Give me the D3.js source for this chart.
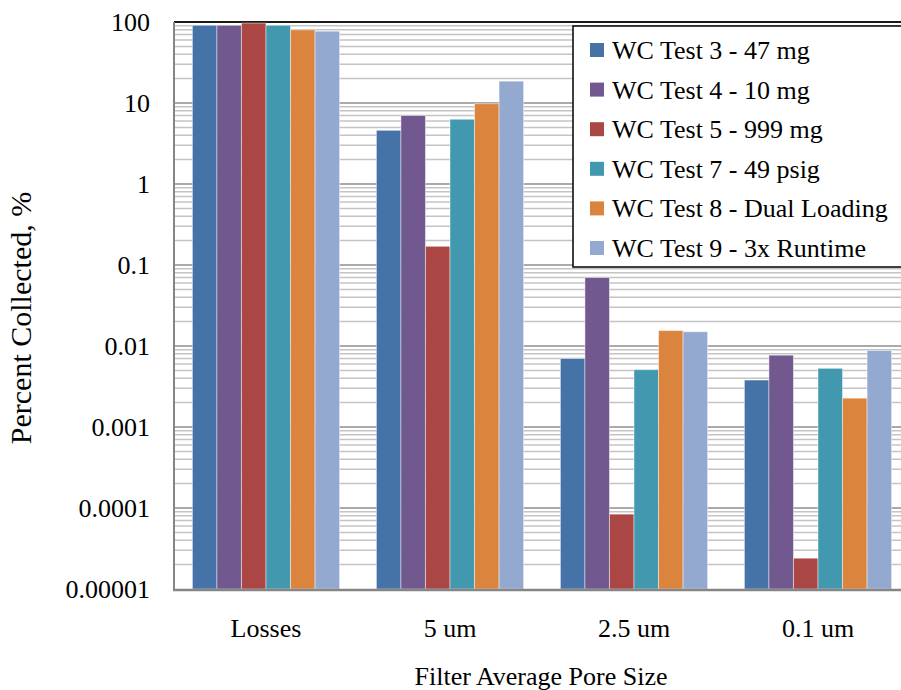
<!DOCTYPE html>
<html>
<head>
<meta charset="utf-8">
<script src="https://cdn.jsdelivr.net/npm/d3@7"></script>
<style>
  body { margin: 0; background: #fff; }
  svg text { font-family: Times; fill: #000; }
</style>
</head>
<body>
<div id="chart"></div>
<script>
// categories along the x axis
const categories = ["Losses", "5 um", "2.5 um", "0.1 um"];
// one entry per test run, values are percent collected for each category
const seriesNames = [
  "WC Test 3 - 47 mg",
  "WC Test 4 - 10 mg",
  "WC Test 5 - 999 mg",
  "WC Test 7 - 49 psig",
  "WC Test 8 - Dual Loading",
  "WC Test 9 - 3x Runtime"
];
const test3 = [91, 4.6, 0.0070, 0.0038];
const test4 = [91, 7.0, 0.070, 0.0077];
const test5 = [97, 0.17, 0.000084, 0.000024];
const test7 = [91, 6.3, 0.0051, 0.0053];
const test8 = [80, 9.8, 0.0155, 0.00227];
const test9 = [77, 18.6, 0.015, 0.0088];
const seriesValues = [test3, test4, test5, test7, test8, test9];
const colors = ["#4572A7", "#71588F", "#AA4643", "#4198AF", "#DB843D", "#93A9CF"];
const yTicks = [100, 10, 1, 0.1, 0.01, 0.001, 0.0001, 0.00001];
const yTickLabels = ["100", "10", "1", "0.1", "0.01", "0.001", "0.0001", "0.00001"];

const W = 901, H = 690;
const FONT = "Times";   // resolves to the Times-metric serif in this sandbox
const FS = 26;
const margin = { top: 22, right: -9, bottom: 101, left: 174 }; // plot runs past the right edge
const plotW = W - margin.left - margin.right,
      plotH = H - margin.top - margin.bottom;

const svg = d3.select("#chart").append("svg")
    .attr("width", W)
    .attr("height", H)
    .attr("font-family", FONT);

const g = svg.append("g")
    .attr("transform", `translate(${margin.left},${margin.top})`);

// Scales
const x0 = d3.scaleBand().domain(categories).range([0, plotW])
    .paddingInner(0.2).paddingOuter(0.1);
const x1 = d3.scaleBand().domain(d3.range(seriesNames.length)).range([0, x0.bandwidth()]);
const y = d3.scaleLog().domain([0.00001, 100]).range([plotH, 0]);

// minor gridlines (2..9 of each decade)
const minor = [];
yTicks.slice(1).forEach(t => { for (let k = 2; k <= 9; k++) minor.push(t * k); });
g.append("g").selectAll("line").data(minor).join("line")
    .attr("x1", 0).attr("x2", plotW)
    .attr("y1", d => y(d)).attr("y2", d => y(d))
    .attr("stroke", "#c4c4c4").attr("stroke-width", 1.5);

// major gridlines
g.append("g").selectAll("line").data(yTicks.slice(1, -1)).join("line")
    .attr("x1", 0).attr("x2", plotW)
    .attr("y1", d => y(d)).attr("y2", d => y(d))
    .attr("stroke", "#8e8e8e").attr("stroke-width", 1.5);

// top line at 100 is drawn dark
g.append("line")
    .attr("x1", 0).attr("x2", plotW)
    .attr("y1", y(100)).attr("y2", y(100))
    .attr("stroke", "#1a1a1a").attr("stroke-width", 2);

// Bars
const groups = g.append("g").selectAll("g").data(categories).join("g")
    .attr("transform", d => `translate(${x0(d)},0)`);
groups.selectAll("rect")
    .data((c, ci) => seriesValues.map((vals, si) => ({ si, v: vals[ci] })))
    .join("rect")
    .attr("x", d => x1(d.si))
    .attr("width", x1.bandwidth())
    .attr("y", d => y(d.v))
    .attr("height", d => plotH - y(d.v))
    .attr("fill", d => colors[d.si])
    .attr("stroke", "rgba(255,255,255,0.45)")
    .attr("stroke-width", 1);

// Y axis
const yAxis = g.append("g")
    .call(d3.axisLeft(y).tickValues(yTicks).tickSize(0).tickPadding(24)
        .tickFormat((d, i) => yTickLabels[i]));
yAxis.attr("font-family", FONT).attr("font-size", FS);
yAxis.select(".domain").remove();
yAxis.selectAll("text").attr("fill", "#000");
g.append("line")
    .attr("x1", 0).attr("x2", 0).attr("y1", 0).attr("y2", plotH + 1)
    .attr("stroke", "#868686").attr("stroke-width", 2);

// X axis
const xAxis = g.append("g")
    .attr("transform", `translate(0,${plotH})`)
    .call(d3.axisBottom(x0).tickSize(0).tickPadding(30));
xAxis.attr("font-family", FONT).attr("font-size", FS);
xAxis.select(".domain").remove();
xAxis.selectAll("text").attr("fill", "#000");
g.append("line")
    .attr("x1", -1).attr("x2", plotW).attr("y1", plotH + 1).attr("y2", plotH + 1)
    .attr("stroke", "#868686").attr("stroke-width", 2.5);

// Axis titles
svg.append("text")
    .attr("transform", "translate(31,318) rotate(-90)")
    .attr("text-anchor", "middle")
    .attr("font-size", 30)
    .text("Percent Collected, %");
svg.append("text")
    .attr("x", 541).attr("y", 685)
    .attr("text-anchor", "middle")
    .attr("font-size", FS)
    .text("Filter Average Pore Size");

// Legend
const legend = svg.append("g").attr("transform", "translate(573,26)");
legend.append("rect")
    .attr("width", 340).attr("height", 241)
    .attr("fill", "#fff").attr("stroke", "#000").attr("stroke-width", 1.5);
const rowH = 39.6;
const items = legend.selectAll("g.item").data(seriesNames).join("g")
    .attr("class", "item")
    .attr("transform", (d, i) => `translate(17,${24 + i * rowH})`);
items.append("rect")
    .attr("y", -7).attr("width", 14).attr("height", 14)
    .attr("fill", (d, i) => colors[i]);
items.append("text")
    .attr("x", 22).attr("y", 9)
    .attr("font-size", FS)
    .text(d => d);
</script>
</body>
</html>
